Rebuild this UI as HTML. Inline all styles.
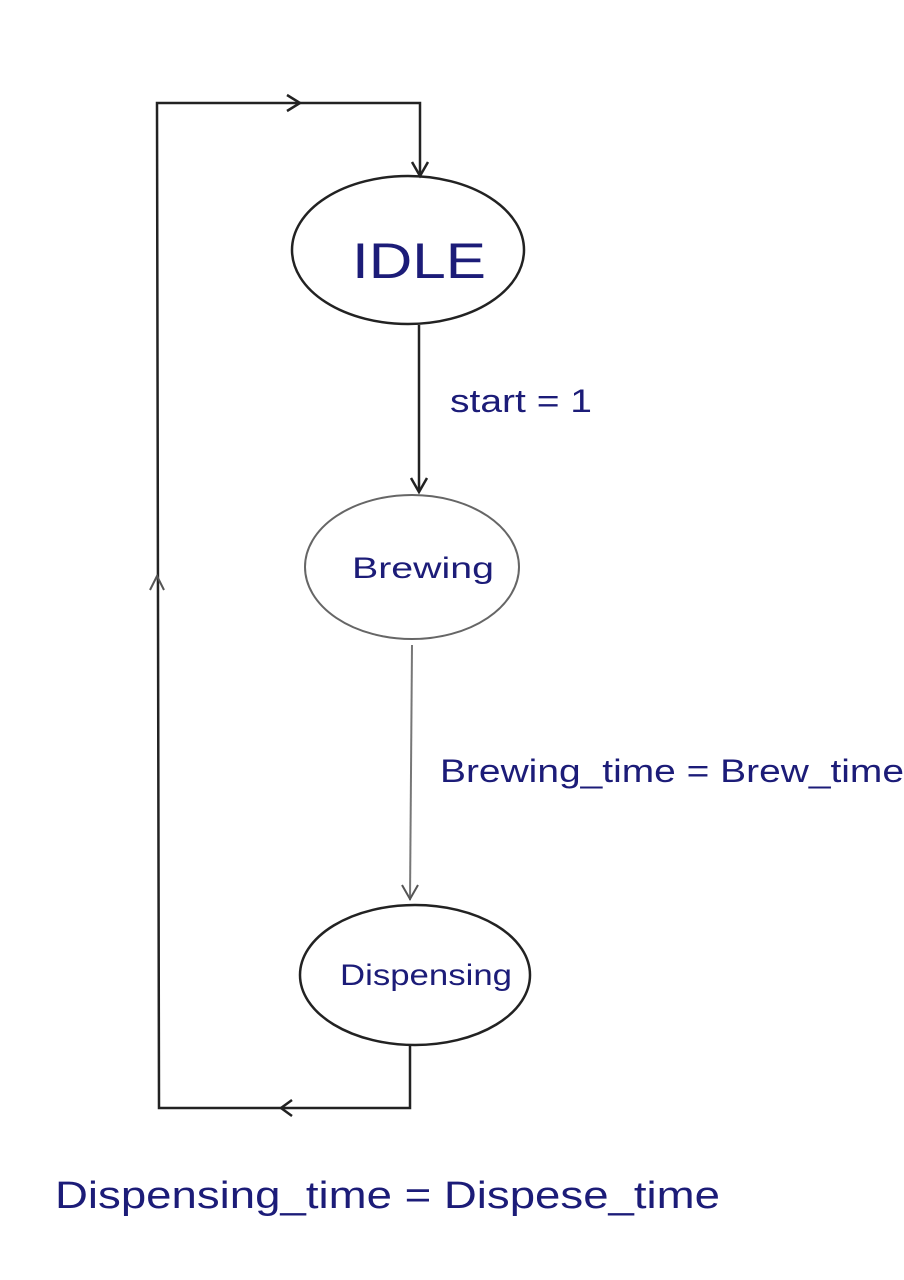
<!DOCTYPE html>
<html><head><meta charset="utf-8"><style>
html,body{margin:0;padding:0;background:#fff;}
svg{display:block}
text{font-family:"Liberation Sans",sans-serif;fill:#1c1c78;}
</style></head><body>
<svg width="904" height="1280" viewBox="0 0 904 1280" xmlns="http://www.w3.org/2000/svg">
<rect width="904" height="1280" fill="#fff"/>
<g fill="none" stroke="#222" stroke-width="2.5">
<polyline points="420,175 420,103 157,103 159,1108 410,1108 410,1046"/>
<ellipse cx="408" cy="250" rx="116" ry="74"/>
<line x1="419" y1="325" x2="419" y2="492"/>
<ellipse cx="412" cy="567" rx="107" ry="72" stroke="#666" stroke-width="2"/>
<line x1="412" y1="645" x2="410" y2="900" stroke="#777" stroke-width="2"/>
<ellipse cx="415" cy="975" rx="115" ry="70"/>
<polyline points="287,95 300,103 287,111"/>
<polyline points="412,162 420,176 428,162"/>
<polyline points="411,478 419,492 427,478"/>
<polyline points="402,885 410,899 418,885" stroke="#555" stroke-width="2"/>
<polyline points="150,590 157,576 164,590" stroke="#555" stroke-width="2"/>
<polyline points="292,1100 281,1108 292,1116"/>
</g>
<text x="352" y="278" font-size="50" textLength="134" lengthAdjust="spacingAndGlyphs">IDLE</text>
<text x="450" y="412" font-size="32" textLength="142" lengthAdjust="spacingAndGlyphs">start = 1</text>
<text x="352" y="578" font-size="30" textLength="142" lengthAdjust="spacingAndGlyphs">Brewing</text>
<text x="440" y="782" font-size="32" textLength="464" lengthAdjust="spacingAndGlyphs">Brewing_time = Brew_time</text>
<text x="340" y="985" font-size="30" textLength="172" lengthAdjust="spacingAndGlyphs">Dispensing</text>
<text x="55" y="1208" font-size="38" textLength="665" lengthAdjust="spacingAndGlyphs">Dispensing_time = Dispese_time</text>
</svg>
</body></html>
